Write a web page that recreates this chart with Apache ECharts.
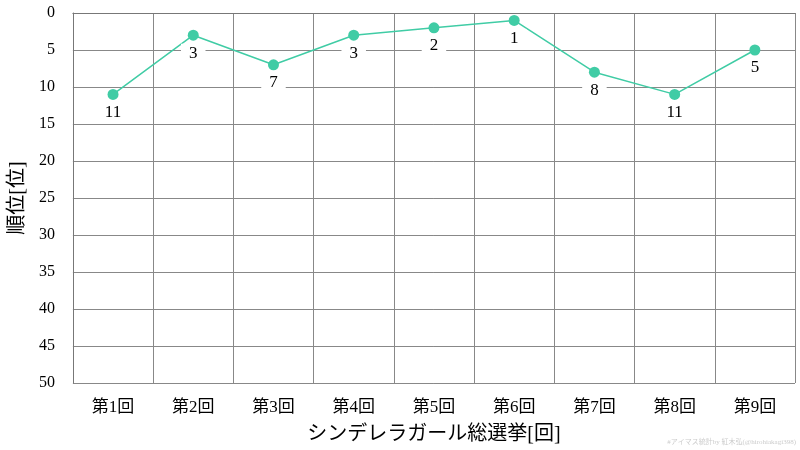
<!DOCTYPE html>
<html><head><meta charset="utf-8">
<script src="https://cdn.jsdelivr.net/npm/echarts@6/dist/echarts.min.js"></script>
<style>html,body{margin:0;padding:0;background:#fff}#c{width:800px;height:450px}</style>
</head><body><div id="c"></div>
<script>
const categories = ['第1回','第2回','第3回','第4回','第5回','第6回','第7回','第8回','第9回'];
const ranks = [11,3,7,3,2,1,8,11,5];
const yTicks = {min:0,max:50,interval:5};
const font = '"Liberation Serif","Noto Sans CJK JP",serif';
const chart = echarts.init(document.getElementById('c'));
chart.setOption({
  animation:false,
  grid:{left:69,right:5,top:13,bottom:66},
  xAxis:{type:'category',data:categories,boundaryGap:true,
    name:'シンデレラガール総選挙[回]',nameLocation:'middle',nameGap:42,
    nameTextStyle:{fontFamily:font,fontSize:20,color:'#000'},
    axisLine:{lineStyle:{color:'#777'}},axisTick:{show:false},
    axisLabel:{fontFamily:font,fontSize:17,color:'#000',margin:16},
    splitLine:{show:true,lineStyle:{color:'#888',width:1}}},
  yAxis:{type:'value',inverse:true,min:yTicks.min,max:yTicks.max,interval:yTicks.interval,
    name:'順位[位]',nameLocation:'middle',nameGap:44,
    nameTextStyle:{fontFamily:font,fontSize:20,color:'#000'},
    axisLine:{show:true,lineStyle:{color:'#777'}},axisTick:{show:false},
    axisLabel:{fontFamily:font,fontSize:16,color:'#000',margin:18},
    splitLine:{lineStyle:{color:'#888',width:1}}},
  graphic:[{type:'text',right:4,bottom:4,style:{text:'#アイマス統計by 紅木弘(@hirohiakagi398)',fill:'#ccc',fontSize:7,fontFamily:font}}],
  series:[{type:'line',data:ranks,symbol:'circle',symbolSize:11,
    itemStyle:{color:'#40cca5'},lineStyle:{color:'#40cca5',width:1.5},
    label:{show:true,position:'bottom',distance:3,fontFamily:font,fontSize:17,color:'#000',
      backgroundColor:'#fff',padding:[1,8]}}]
});
</script></body></html>
